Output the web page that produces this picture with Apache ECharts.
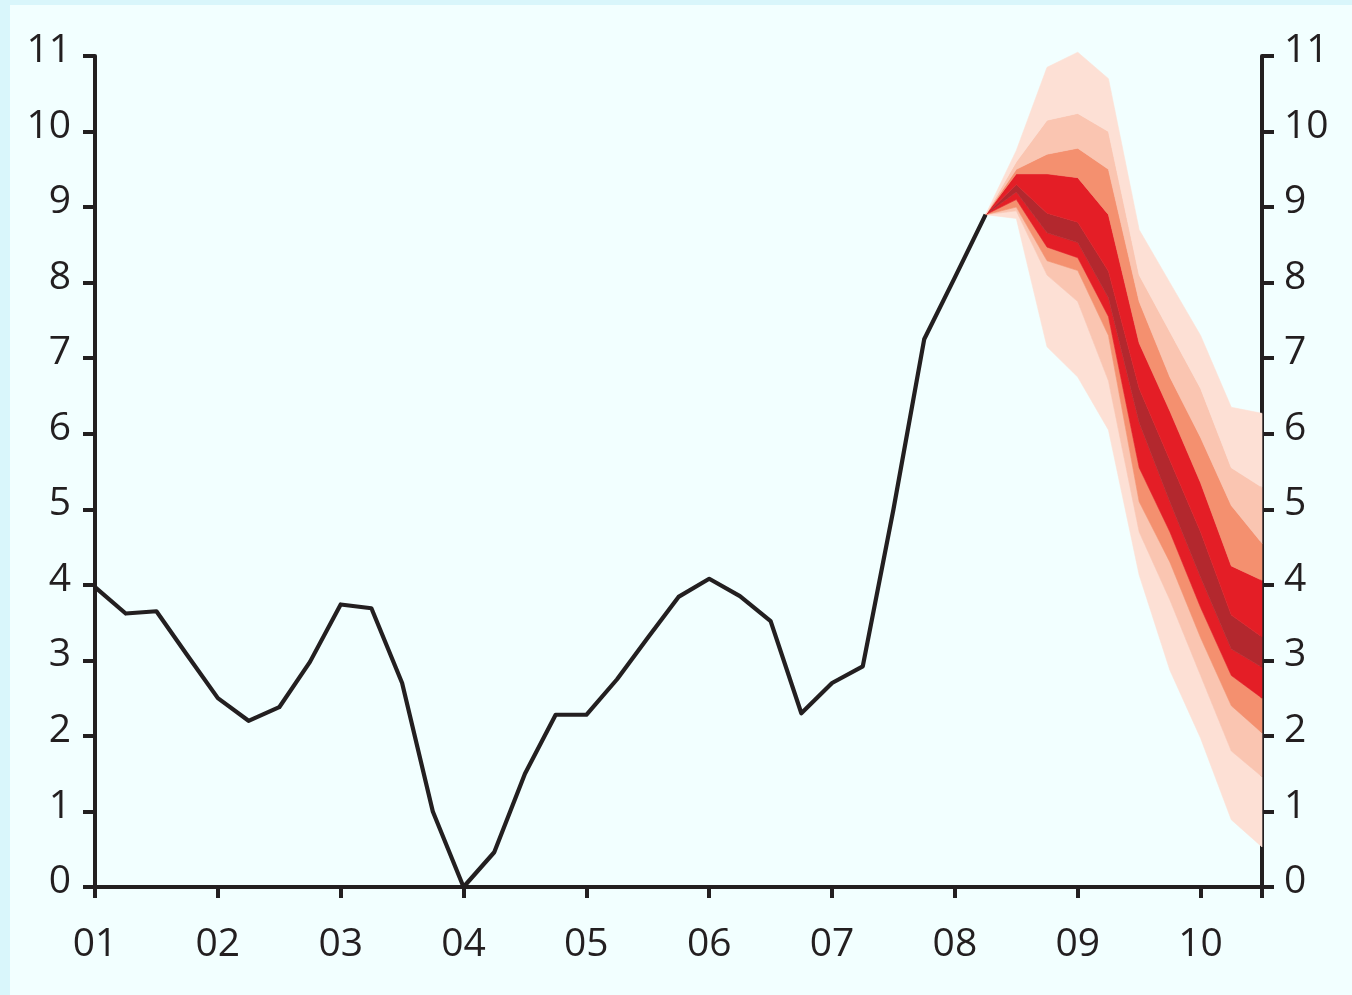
<!DOCTYPE html>
<html>
<head>
<meta charset="utf-8">
<script src="https://cdn.jsdelivr.net/npm/echarts@6/dist/echarts.min.js"></script>
<style>
html,body{margin:0;padding:0;background:#d9f6fb;width:1352px;height:995px;overflow:hidden}
#chart{position:absolute;left:10px;top:5px;width:1342px;height:990px;background:#f2ffff}
</style>
</head>
<body>
<div id="chart"></div>
<script>
// Outturn (quarterly, 2001 Q1 .. 2008 Q2)
var histX = [2001.0,2001.25,2001.5,2001.75,2002.0,2002.25,2002.5,2002.75,2003.0,2003.25,2003.5,2003.75,
  2004.0,2004.25,2004.5,2004.75,2005.0,2005.25,2005.5,2005.75,2006.0,2006.25,2006.5,2006.75,
  2007.0,2007.25,2007.5,2007.75,2008.0,2008.25];
var histY = [3.97,3.62,3.65,3.07,2.5,2.2,2.38,2.98,3.74,3.69,2.7,1.0,
  0.0,0.46,1.5,2.28,2.28,2.75,3.3,3.84,4.08,3.85,3.52,2.3,
  2.7,2.92,5.0,7.25,8.07,8.9];

// Fan chart band boundaries (lowest to highest)
var fanX = [2008.25,2008.5,2008.75,2009.0,2009.25,2009.5,2009.75,2010.0,2010.25,2010.5];
var fanL4 = [8.9,8.85,7.15,6.75,6.05,4.13,2.87,1.97,0.89,0.53];
var fanL3 = [8.9,8.95,8.1,7.75,6.7,4.7,3.8,2.8,1.8,1.46];
var fanL2 = [8.9,9.0,8.29,8.16,7.3,5.1,4.3,3.3,2.4,2.04];
var fanL1 = [8.9,9.1,8.47,8.33,7.55,5.55,4.7,3.7,2.8,2.5];
var fanClo = [8.9,9.2,8.66,8.53,7.8,6.15,5.1,4.1,3.15,2.91];
var fanChi = [8.9,9.3,8.92,8.8,8.15,6.6,5.65,4.7,3.6,3.31];
var fanU1 = [8.9,9.44,9.44,9.39,8.9,7.2,6.3,5.35,4.25,4.06];
var fanU2 = [8.9,9.5,9.7,9.78,9.5,7.75,6.75,5.95,5.05,4.55];
var fanU3 = [8.9,9.6,10.15,10.24,10.0,8.1,7.35,6.6,5.55,5.29];
var fanU4 = [8.9,9.75,10.85,11.05,10.7,8.7,8.0,7.3,6.35,6.27];

var bandColors = ['#fde0d5','#fac5b1','#f4906f','#e41e26','#b3282e','#e41e26','#f4906f','#fac5b1','#fde0d5'];

var yTicks = [0,1,2,3,4,5,6,7,8,9,10,11];

var bounds = [fanL4,fanL3,fanL2,fanL1,fanClo,fanChi,fanU1,fanU2,fanU3,fanU4];
var bandIdx = bandColors.map(function(c,i){return i;});

var font = 'Open Sans';
var axisCol = '#231f20';
var chart = echarts.init(document.getElementById('chart'));
chart.setOption({
  animation:false,
  backgroundColor:'#f2ffff',
  grid:{left:85,right:90,top:51,bottom:108,containLabel:false},
  xAxis:{
    type:'value', min:2001, max:2010.5, interval:1,
    axisLine:{show:true,lineStyle:{color:axisCol,width:4}},
    axisTick:{show:true,inside:false,length:11,lineStyle:{color:axisCol,width:4}},
    splitLine:{show:false},
    axisLabel:{color:axisCol,fontFamily:font,fontSize:39,margin:38,
      formatter:function(v){ if (Math.abs(v-Math.round(v))>1e-6) return ''; return String(Math.round(v)).slice(2);}}
  },
  yAxis:[{
    type:'value', min:0, max:11, interval:1, position:'left',
    axisLine:{show:true,lineStyle:{color:axisCol,width:4}},
    axisTick:{show:true,inside:false,length:12,lineStyle:{color:axisCol,width:4}},
    splitLine:{show:false},
    axisLabel:{color:axisCol,fontFamily:font,fontSize:39,margin:24,verticalAlign:'bottom',lineHeight:10,
      formatter:function(v){return yTicks.indexOf(v)>=0?String(v):'';}}
  },{
    type:'value', min:0, max:11, interval:1, position:'right',
    axisLine:{show:true,lineStyle:{color:axisCol,width:4}},
    axisTick:{show:true,inside:false,length:12,lineStyle:{color:axisCol,width:4}},
    splitLine:{show:false},
    axisLabel:{color:axisCol,fontFamily:font,fontSize:39,margin:22,verticalAlign:'bottom',lineHeight:10,
      formatter:function(v){return yTicks.indexOf(v)>=0?String(v):'';}}
  }],
  series:[{
    type:'custom',
    coordinateSystem:'cartesian2d',
    data: bandIdx,
    encode:{x:-1,y:-1},
    silent:true,
    z:1,
    renderItem:function(params, api){
      var b = api.value(0);
      var lo = bounds[b], hi = bounds[b+1];
      var pts = [];
      for (var i=0;i<fanX.length;i++) pts.push(api.coord([fanX[i], hi[i]]));
      for (var j=fanX.length-1;j>=0;j--) pts.push(api.coord([fanX[j], lo[j]]));
      return {
        type:'polygon',
        shape:{points:pts},
        style:{fill:bandColors[b], stroke:bandColors[b], lineWidth:0.6}
      };
    }
  },{
    type:'line', data: histX.map(function(x,i){return [x,histY[i]];}),
    showSymbol:false, lineStyle:{color:'#231f20',width:4.2,join:'round'}, z:5
  }]
});
</script>
</body>
</html>
